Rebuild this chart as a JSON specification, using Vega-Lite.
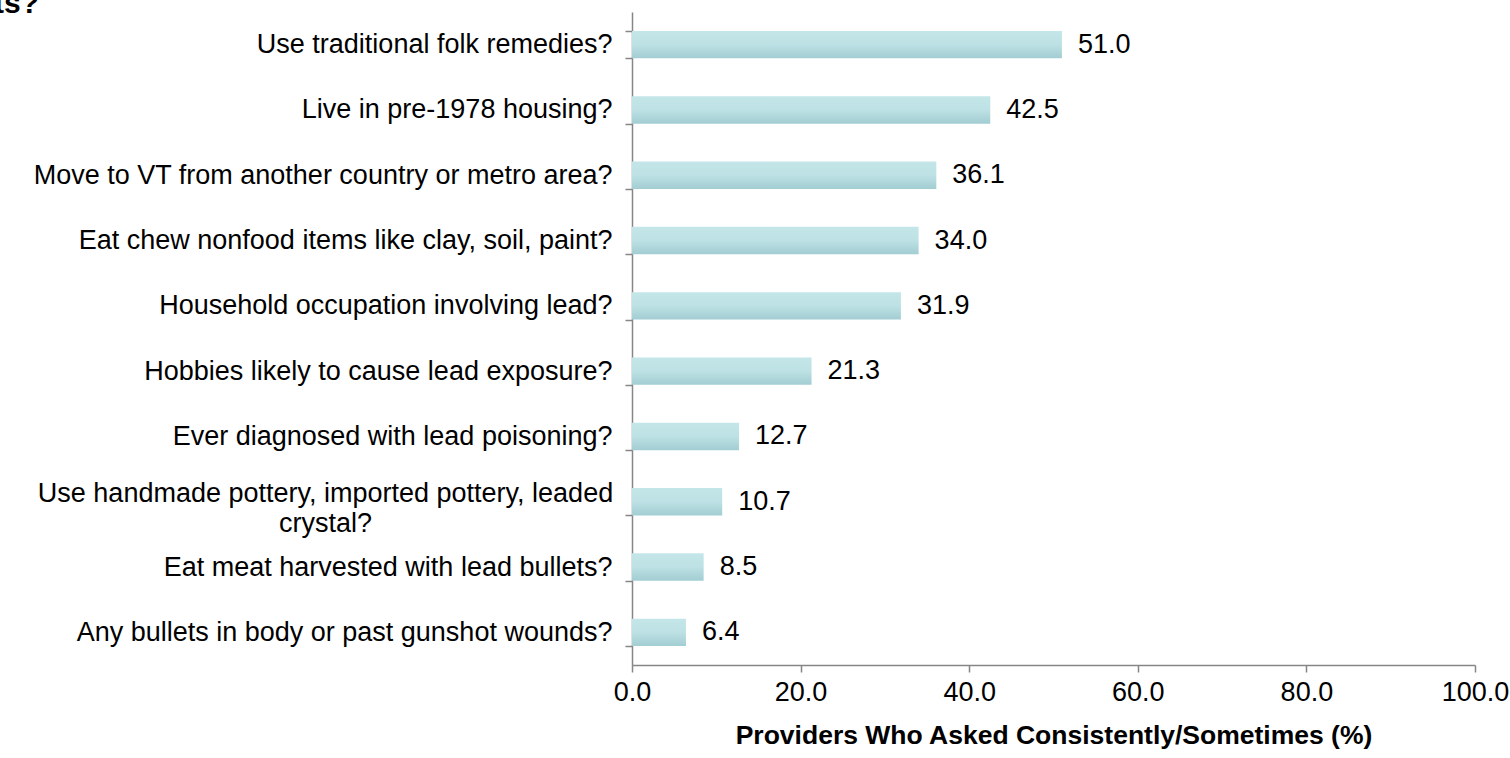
{
  "$schema": "https://vega.github.io/schema/vega-lite/v6.json",
  "width": 843,
  "height": 653,
  "autosize": {"type": "none"},
  "padding": {"left": 632, "top": 12, "right": 35, "bottom": 93},
  "background": "white",
  "title": {"text": "ts?", "anchor": "start", "frame": "group", "fontSize": 30, "font": "Liberation Sans", "fontWeight": "bold", "color": "black", "dx": -638, "dy": 45, "offset": 0, "baseline": "alphabetic"},
  "config": {
    "view": {"stroke": null},
    "font": "Liberation Sans",
    "axis": {"domainColor": "#868686", "tickColor": "#868686", "domainWidth": 1.5, "tickWidth": 1.5, "grid": false, "labelColor": "black", "labelFont": "Liberation Sans", "labelFontSize": 27}
  },
  "data": {"values": [
    {"q": "Use traditional folk remedies?", "pct": 51.0},
    {"q": "Live in pre-1978 housing?", "pct": 42.5},
    {"q": "Move to VT from another country or metro area?", "pct": 36.1},
    {"q": "Eat chew nonfood items like clay, soil, paint?", "pct": 34.0},
    {"q": "Household occupation involving lead?", "pct": 31.9},
    {"q": "Hobbies likely to cause lead exposure?", "pct": 21.3},
    {"q": "Ever diagnosed with lead poisoning?", "pct": 12.7},
    {"q": "Use handmade pottery, imported pottery, leaded crystal?", "pct": 10.7},
    {"q": "Eat meat harvested with lead bullets?", "pct": 8.5},
    {"q": "Any bullets in body or past gunshot wounds?", "pct": 6.4}
  ]},
  "encoding": {
    "y": {
      "field": "q", "type": "nominal", "sort": null,
      "scale": {"paddingInner": 0.58, "paddingOuter": 0.29},
      "axis": {
        "title": null, "tickBand": "extent", "tickSize": 7,
        "labelPadding": {"condition": {"test": "datum.value == 'Use handmade pottery, imported pottery, leaded crystal?'", "value": 300}, "value": 13},
        "labelAlign": {"condition": {"test": "datum.value == 'Use handmade pottery, imported pottery, leaded crystal?'", "value": "center"}, "value": "right"},
        "labelOffset": {"condition": {"test": "datum.value == 'Use handmade pottery, imported pottery, leaded crystal?'", "value": -8}, "value": 0},
        "labelLineHeight": 30,
        "labelLimit": 700,
        "labelExpr": "datum.value == 'Use handmade pottery, imported pottery, leaded crystal?' ? ['Use handmade pottery, imported pottery, leaded', 'crystal?'] : datum.label"
      }
    },
    "x": {
      "field": "pct", "type": "quantitative",
      "scale": {"domain": [0, 100], "nice": false},
      "axis": {"title": "Providers Who Asked Consistently/Sometimes (%)", "titleFontSize": 26.5, "titleFont": "Liberation Sans", "titleFontWeight": "bold", "titleColor": "black", "titlePadding": 17, "values": [0, 20, 40, 60, 80, 100], "format": ".1f", "tickSize": 7, "labelPadding": 7, "labelFlush": false}
    }
  },
  "layer": [
    {"mark": {"type": "bar", "color": {"gradient": "linear", "x1": 0, "y1": 0, "x2": 0, "y2": 1, "stops": [{"offset": 0, "color": "#c4e6e9"}, {"offset": 0.5, "color": "#bde1e4"}, {"offset": 1, "color": "#a2cdd2"}]}}},
    {"mark": {"type": "text", "align": "left", "baseline": "middle", "dx": 16, "fontSize": 27, "color": "black", "font": "Liberation Sans"},
     "encoding": {"text": {"field": "pct", "type": "quantitative", "format": ".1f"}}}
  ]
}
